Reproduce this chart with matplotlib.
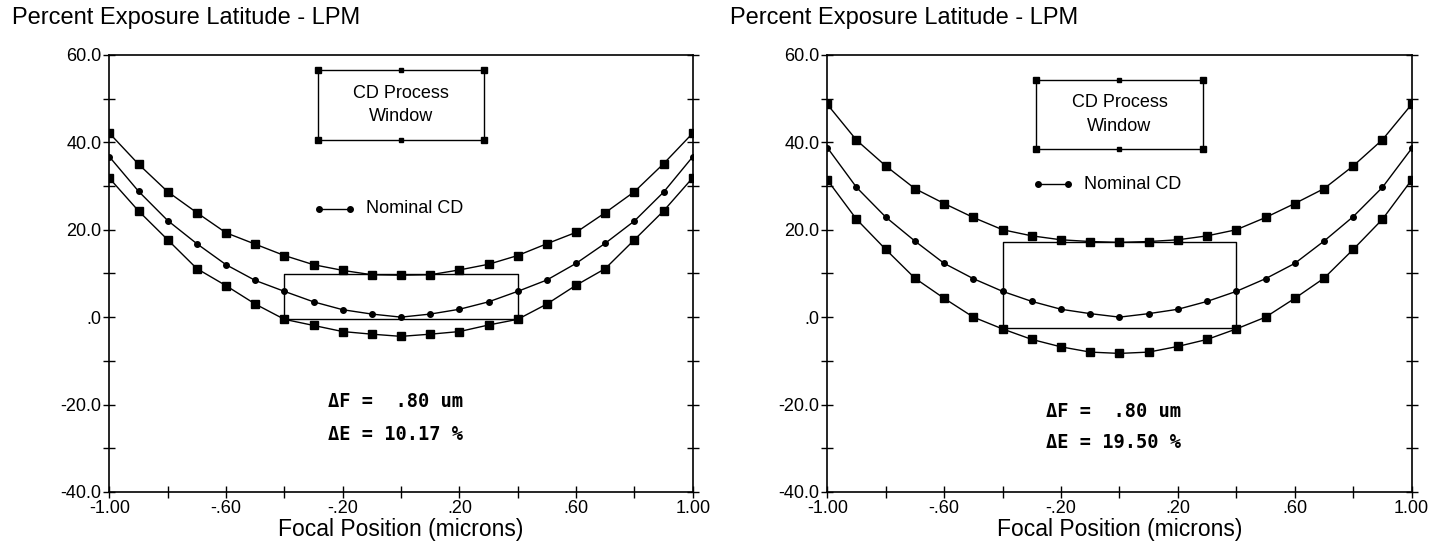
import matplotlib.pyplot as plt
import numpy as np

plt.rcParams['font.family'] = ['Liberation Sans', 'DejaVu Sans']

focus = [-1.0, -0.9, -0.8, -0.7, -0.6, -0.5, -0.4, -0.3, -0.2, -0.1, 0.0,
         0.1, 0.2, 0.3, 0.4, 0.5, 0.6, 0.7, 0.8, 0.9, 1.0]

# left panel: exposure latitude (%) for upper CD limit, nominal CD, lower CD limit
left_upper = [42.1, 35.0, 28.7, 23.9, 19.3, 16.7, 14.1, 12.0, 10.7, 9.7, 9.6,
              9.7, 10.8, 12.1, 14.1, 16.8, 19.4, 23.9, 28.7, 35.1, 42.1]
left_nominal = [36.7, 28.8, 22.1, 16.8, 12.0, 8.4, 5.9, 3.5, 1.7, 0.7, 0.0,
                0.7, 1.8, 3.5, 5.9, 8.5, 12.3, 16.9, 22.0, 28.6, 36.7]
left_lower = [31.8, 24.3, 17.7, 11.1, 7.2, 3.0, -0.5, -1.9, -3.3, -3.9, -4.4,
              -3.9, -3.3, -1.8, -0.5, 3.0, 7.3, 11.1, 17.7, 24.3, 31.9]
left_window = (-0.4, 0.4, -0.33, 9.84)
left_text = ['\u0394F =  .80 um', '\u0394E = 10.17 %']

# right panel
right_upper = [48.7, 40.5, 34.6, 29.4, 26.0, 22.8, 20.0, 18.6, 17.7, 17.3, 17.1,
               17.3, 17.7, 18.6, 20.0, 22.8, 26.0, 29.4, 34.6, 40.6, 48.7]
right_nominal = [38.8, 29.7, 22.9, 17.4, 12.3, 8.8, 5.9, 3.6, 1.8, 0.8, 0.0,
                 0.8, 1.8, 3.6, 5.9, 8.8, 12.3, 17.4, 23.0, 29.7, 38.6]
right_lower = [31.4, 22.4, 15.5, 8.9, 4.3, 0.0, -2.7, -5.1, -6.8, -8.0, -8.3,
               -8.0, -6.7, -5.1, -2.7, 0.0, 4.3, 8.9, 15.5, 22.4, 31.4]
right_window = (-0.4, 0.4, -2.4, 17.1)
right_text = ['\u0394F =  .80 um', '\u0394E = 19.50 %']

title = 'Percent Exposure Latitude - LPM'
xlabel = 'Focal Position (microns)'
xticks = [-1.0, -0.6, -0.2, 0.2, 0.6, 1.0]
xticklabels = ['-1.00', '-.60', '-.20', '.20', '.60', '1.00']
yticks = [60, 40, 20, 0, -20, -40]
yticklabels = ['60.0', '40.0', '20.0', '.0', '-20.0', '-40.0']


def draw_panel(ax, upper, nominal, lower, window, texts, legend_y, box_y, text_y):
    ax.plot(focus, upper, color='black', lw=1.0, marker='s', ms=6)
    ax.plot(focus, nominal, color='black', lw=1.0, marker='o', ms=4)
    ax.plot(focus, lower, color='black', lw=1.0, marker='s', ms=6)

    x0, x1, y0, y1 = window
    ax.plot([x0, x1, x1, x0, x0], [y0, y0, y1, y1, y0], color='black', lw=1.0)

    # legend box "CD Process Window"
    bx0, bx1 = -0.285, 0.285
    by0, by1 = box_y
    ax.plot([bx0, bx1, bx1, bx0, bx0], [by0, by0, by1, by1, by0], color='black', lw=1.0)
    ax.plot([bx0, bx1, bx0, bx1], [by0, by0, by1, by1], ls='none', marker='s', ms=5, color='black')
    ax.plot([0, 0], [by0, by1], ls='none', marker='s', ms=3.5, color='black')
    ax.text(0, (by0 + by1) / 2, 'CD Process\nWindow', ha='center', va='center',
            fontsize=13, linespacing=1.5)

    # legend "Nominal CD"
    ax.plot([-0.28, -0.175], [legend_y, legend_y], color='black', lw=1.0, marker='o', ms=4)
    ax.text(-0.12, legend_y, 'Nominal CD', ha='left', va='center', fontsize=13)

    ax.text(-0.25, text_y[0], texts[0], family='DejaVu Sans Mono', weight='bold',
            fontsize=13.5, ha='left', va='center')
    ax.text(-0.25, text_y[1], texts[1], family='DejaVu Sans Mono', weight='bold',
            fontsize=13.5, ha='left', va='center')

    ax.set_xlim(-1, 1)
    ax.set_ylim(-40, 60)
    ax.set_xticks(xticks, labels=xticklabels)
    ax.set_xticks([-0.8, -0.4, 0.0, 0.4, 0.8], minor=True)
    ax.set_yticks(yticks, labels=yticklabels)
    ax.set_yticks([50, 30, 10, -10, -30], minor=True)
    ax.tick_params(which='both', direction='inout', length=9, width=1, pad=1,
                   labelsize=13, right=True, top=False)
    for s in ax.spines.values():
        s.set_linewidth(1.2)
    ax.set_xlabel(xlabel, fontsize=16.5, labelpad=1)


fig = plt.figure(figsize=(14.39, 5.46), dpi=100)
ax1 = fig.add_axes([0.076, 0.099, 0.4054, 0.8004])
ax2 = fig.add_axes([0.5749, 0.099, 0.4061, 0.8004])

draw_panel(ax1, left_upper, left_nominal, left_lower, left_window, left_text,
           24.8, (40.5, 56.5), (-19.3, -26.8))
draw_panel(ax2, right_upper, right_nominal, right_lower, right_window, right_text,
           30.4, (38.4, 54.3), (-21.5, -28.8))

fig.text(12 / 1439, 1 - 18 / 546, title, fontsize=17, ha='left', va='center')
fig.text(730 / 1439, 1 - 18 / 546, title, fontsize=17, ha='left', va='center')

fig.savefig('out.png', dpi=100)
